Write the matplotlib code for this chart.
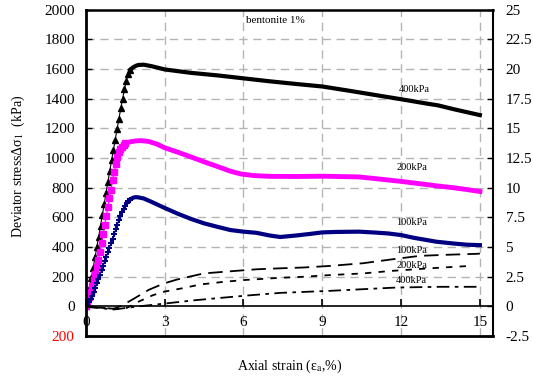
import matplotlib
matplotlib.use("Agg")
import matplotlib.pyplot as plt

plt.rcParams['font.family'] = ['Liberation Serif', 'DejaVu Serif']
plt.rcParams['mathtext.fontset'] = 'stix'
plt.rcParams['axes.unicode_minus'] = False

# %% Data
# deviator stress (kPa) - rising part (with markers) and post-peak part
rise_400_x = [0.00, 0.07, 0.14, 0.21, 0.28, 0.35, 0.42, 0.49, 0.56, 0.63, 0.70, 0.77, 0.84,
              0.91, 0.98, 1.05, 1.12, 1.19, 1.26, 1.33, 1.40, 1.47, 1.54, 1.61, 1.68]
rise_400_y = [0, 50, 120, 190, 260, 330, 400, 470, 545, 615, 690, 765, 840,
              910, 985, 1055, 1125, 1195, 1265, 1335, 1400, 1465, 1520, 1565, 1595]
post_400_x = [1.68, 1.8, 1.9, 2.0, 2.2, 2.5, 3.0, 4.0, 5.0, 6.0, 7.0, 8.0, 9.0,
              10.0, 11.0, 12.0, 13.0, 13.4, 14.0, 14.5, 15.0]
post_400_y = [1595, 1612, 1622, 1628, 1630, 1620, 1598, 1575, 1558, 1538, 1518, 1500, 1483,
              1455, 1426, 1397, 1367, 1356, 1330, 1310, 1290]

rise_200_x = [0.00, 0.06, 0.12, 0.18, 0.24, 0.30, 0.36, 0.42, 0.48, 0.54, 0.60, 0.66, 0.72,
              0.78, 0.84, 0.90, 0.96, 1.02, 1.08, 1.14, 1.20, 1.26, 1.32, 1.38, 1.44, 1.50]
rise_200_y = [0, 30, 65, 100, 140, 180, 220, 265, 315, 370, 430, 490, 550,
              610, 670, 730, 785, 850, 905, 960, 1005, 1040, 1062, 1078, 1090, 1100]
post_200_x = [1.50, 1.7, 1.9, 2.1, 2.4, 2.7, 3.0, 3.5, 4.0, 4.5, 5.0, 5.5, 5.9, 6.4, 7.0,
              8.0, 9.0, 10.4, 11.0, 12.0, 13.35, 14.0, 14.5, 15.0]
post_200_y = [1100, 1110, 1116, 1118, 1112, 1095, 1070, 1040, 1008, 975, 944, 912, 893, 882, 877,
              876, 878, 873, 862, 843, 813, 800, 788, 775]

rise_100_x = [0.00, 0.06, 0.12, 0.18, 0.24, 0.30, 0.36, 0.42, 0.48, 0.54, 0.60, 0.66, 0.72,
              0.78, 0.84, 0.90, 0.96, 1.02, 1.08, 1.14, 1.20, 1.26, 1.32, 1.38, 1.44, 1.50,
              1.56, 1.62, 1.68]
rise_100_y = [0, 13, 30, 50, 72, 97, 125, 155, 185, 215, 245, 275, 305,
              335, 365, 395, 425, 455, 487, 520, 552, 584, 612, 638, 660, 680,
              697, 710, 720]
post_100_x = [1.68, 1.8, 1.9, 2.0, 2.2, 2.5, 3.0, 3.5, 4.0, 4.5, 5.0, 5.5, 6.0, 6.5, 7.0,
              7.4, 8.0, 8.5, 9.0, 9.5, 10.4, 11.0, 11.5, 12.0, 12.5, 13.35, 14.0, 14.5, 15.0]
post_100_y = [720, 733, 737, 735, 728, 705, 664, 625, 590, 560, 537, 515, 504, 496, 478,
              468, 478, 488, 499, 502, 504, 498, 492, 481, 462, 436, 424, 416, 413]

# volumetric strain (%) - right axis
vol_100_x = [0.0, 0.5, 1.07, 1.4, 1.83, 2.4, 2.97, 3.48, 4.49, 5.63, 6.52, 7.41, 8.3, 9.29,
             10.56, 11.6, 12.71, 13.73, 14.87, 15.0]
vol_100_y = [0.0, -0.1, -0.2, 0.1, 0.65, 1.4, 1.93, 2.27, 2.78, 2.98, 3.13, 3.21, 3.28, 3.41,
             3.64, 3.95, 4.26, 4.35, 4.43, 4.45]
vol_200_x = [0.0, 0.6, 1.45, 1.98, 2.55, 3.0, 3.61, 4.37, 5.25, 6.02, 7.41, 8.3, 9.29, 10.56,
             11.57, 13.09, 14.61]
vol_200_y = [0.0, -0.12, -0.26, 0.37, 0.94, 1.25, 1.5, 1.85, 2.07, 2.22, 2.41, 2.5, 2.64, 2.78,
             2.98, 3.21, 3.41]
vol_400_x = [0.0, 0.11, 1.07, 2.0, 2.97, 4.11, 5.25, 6.27, 7.41, 8.3, 9.29, 10.56, 11.83,
             13.48, 14.94]
vol_400_y = [0.0, -0.06, -0.26, 0.0, 0.23, 0.51, 0.74, 0.94, 1.14, 1.22, 1.31, 1.45, 1.59,
             1.65, 1.65]

x_ticks = [0, 3, 6, 9, 12, 15]
left_ticks = [-200, 0, 200, 400, 600, 800, 1000, 1200, 1400, 1600, 1800, 2000]
left_labels = ['200', '0', '200', '400', '600', '800', '1000', '1200', '1400', '1600', '1800', '2000']
right_ticks = [-2.5, 0, 2.5, 5, 7.5, 10, 12.5, 15, 17.5, 20, 22.5, 25]

# %% Plotting
fig = plt.figure(figsize=(5.33, 3.78), dpi=100)
ax = fig.add_axes([0.161, 0.111, 0.764, 0.863])

ax.set_xlim(0, 15.5)
ax.set_ylim(-200, 2000)

# grid
for gx in x_ticks[1:]:
    ax.axvline(gx, color='#b4b4b4', lw=1, dashes=(6, 4), zorder=0)
for gy in left_ticks[2:-1]:
    ax.axhline(gy, color='#b4b4b4', lw=1, dashes=(6, 4), zorder=0)

ax.plot(rise_400_x, rise_400_y, color='black', lw=0.8, marker='^', ms=4.5)
ax.plot(post_400_x, post_400_y, color='black', lw=3)
ax.plot(rise_200_x, rise_200_y, color='#ff00ff', lw=0.8, marker='s', ms=4, mec='#ff00ff')
ax.plot(post_200_x, post_200_y, color='#ff00ff', lw=3.5)
ax.plot(rise_100_x, rise_100_y, color='#000080', lw=0.8, marker='+', ms=4.5, mew=1.5)
ax.plot(post_100_x, post_100_y, color='#000080', lw=3)

ax.spines['bottom'].set_position(('data', 0))
ax.spines['bottom'].set_linewidth(1.2)
ax.spines['left'].set_linewidth(2)
ax.spines['top'].set_linewidth(1.8)
ax.spines['right'].set_visible(False)

ax.set_xticks(x_ticks)
ax.set_yticks(left_ticks)
ax.set_yticklabels(left_labels)
ax.get_yticklabels()[0].set_color('red')
ax.tick_params(axis='x', direction='in', length=5, width=1.2, pad=7, labelsize=11)
ax.tick_params(axis='y', direction='in', length=4, width=1, pad=8, labelsize=11)

ax.set_ylabel('Deviator stressΔσ$_1$  (kPa)', fontsize=10)
ax.yaxis.set_label_coords(-0.145, 0.52)
ax.set_xlabel('Axial strain (ε$_{\\mathrm{a}}$,%)', fontsize=10)
ax.xaxis.set_label_coords(0.5, -0.065)

ax2 = ax.twinx()
ax2.set_ylim(-2.5, 25)
ax2.plot(vol_100_x, vol_100_y, color='black', lw=1.3, dashes=(8, 4))
ax2.plot(vol_200_x, vol_200_y, color='black', lw=1.3, dashes=(3.5, 4))
ax2.plot(vol_400_x, vol_400_y, color='black', lw=1.3, dashes=(7, 3, 2, 3))
ax2.set_yticks(right_ticks)
ax2.set_yticklabels(['%g' % v for v in right_ticks])
ax2.tick_params(axis='y', direction='in', length=4, width=1, pad=9, labelsize=11)
ax2.spines['right'].set_linewidth(1.5)
ax2.spines['bottom'].set_linewidth(2)
ax2.spines['left'].set_visible(False)
ax2.spines['top'].set_visible(False)

# annotations
ax.text(7.2, 1927, 'bentonite 1%', fontsize=8, ha='center', va='center')
ax.text(12.5, 1460, '400kPa', fontsize=7.5, ha='center', va='center')
ax.text(12.4, 938, '200kPa', fontsize=7.5, ha='center', va='center')
ax.text(12.4, 565, '100kPa', fontsize=7.5, ha='center', va='center')
ax.text(12.4, 375, '100kPa', fontsize=7.5, ha='center', va='center')
ax.text(12.4, 278, '200kPa', fontsize=7.5, ha='center', va='center')
ax.text(12.4, 176, '400kPa', fontsize=7.5, ha='center', va='center')

fig.savefig('out.png', dpi=100)
